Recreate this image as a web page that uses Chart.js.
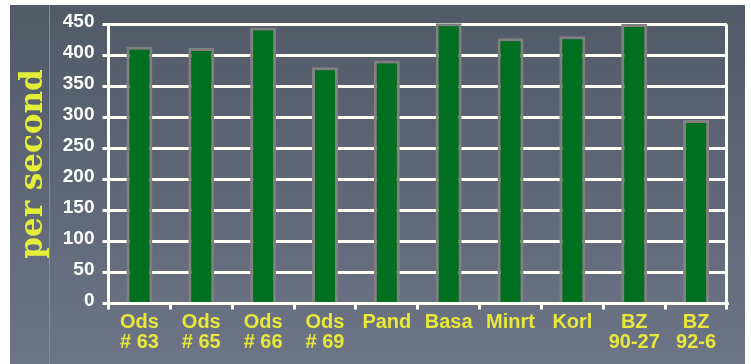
<!DOCTYPE html>
<html>
<head>
<meta charset="utf-8">
<script src="https://cdn.jsdelivr.net/npm/chart.js@4.4.0/dist/chart.umd.min.js"></script>
<style>
  html, body { margin: 0; padding: 0; background: #ffffff; }
  #panel {
    position: absolute; left: 10px; top: 5px; width: 735px; height: 359px;
    background: linear-gradient(to bottom, #525967 0%, #6c7486 100%);
  }
  #rule { position: absolute; left: 39px; top: 0; width: 1px; height: 359px; background: #878890; }
  #myBarChart { position: absolute; left: 0; top: 0; }
</style>
</head>
<body>
<div id="panel">
  <div id="rule"></div>
  <canvas id="myBarChart" width="735" height="359"></canvas>
</div>
<script>
// strains on the x axis (two-line labels)
const strains = [["Ods", "# 63"], ["Ods", "# 65"], ["Ods", "# 66"], ["Ods", "# 69"], "Pand", "Basa", "Minrt", "Korl", ["BZ", "90-27"], ["BZ", "92-6"]];
// rate per second
const perSecond = [414, 412, 445, 381, 392, 452, 428, 431, 451, 296];
const yTicks = [0, 50, 100, 150, 200, 250, 300, 350, 400, 450];

const white = "#fffff4";
const yellow = "#e8e83a";

var ctx = document.getElementById("myBarChart").getContext('2d');
var myChart = new Chart(ctx, {
    type: 'bar',
    data: {
        labels: strains,
        datasets: [{
            data: perSecond,
            backgroundColor: '#007020',
            borderColor: '#808080',
            borderWidth: 3,
            categoryPercentage: 1,
            barPercentage: 0.42,
            clip: false
        }]
    },
    options: {
        responsive: false,
        animation: false,
        layout: { padding: { top: 19.5, right: 18, left: 0, bottom: 0 } },
        plugins: {
            legend: { display: false },
            tooltip: { enabled: false }
        },
        scales: {
            x: {
                grid: {
                    // only the right-hand frame line is drawn across the plot
                    color: c => c.type === 'tick' ? 'rgba(0,0,0,0)' : white,
                    tickColor: white,
                    lineWidth: 3,
                    tickLength: 6
                },
                border: { color: white, width: 3 },
                ticks: {
                    color: yellow,
                    padding: 3,
                    maxRotation: 0,
                    autoSkip: false,
                    font: { family: "'Liberation Sans', Arial, sans-serif", size: 20, weight: 'bold', lineHeight: 1.0 }
                },
                afterFit: s => { s.height = 60.5; }
            },
            y: {
                min: 0,
                max: 450,
                afterBuildTicks: s => { s.ticks = yTicks.map(v => ({ value: v })); },
                grid: { color: white, lineWidth: 3, tickLength: 6 },
                border: { color: white, width: 3 },
                ticks: {
                    color: '#ffffff',
                    padding: 8,
                    labelOffset: -3,
                    font: { family: "'Liberation Sans', Arial, sans-serif", size: 19, weight: 'bold' }
                },
                title: {
                    display: true,
                    text: 'per second',
                    color: '#e2ee38',
                    padding: { top: 8, bottom: 0 },
                    font: { family: "'DejaVu Serif', serif", size: 31, weight: 'bold', lineHeight: 1.0 }
                },
                afterFit: s => { s.width = 98.5; }
            }
        }
    }
});
</script>
</body>
</html>
